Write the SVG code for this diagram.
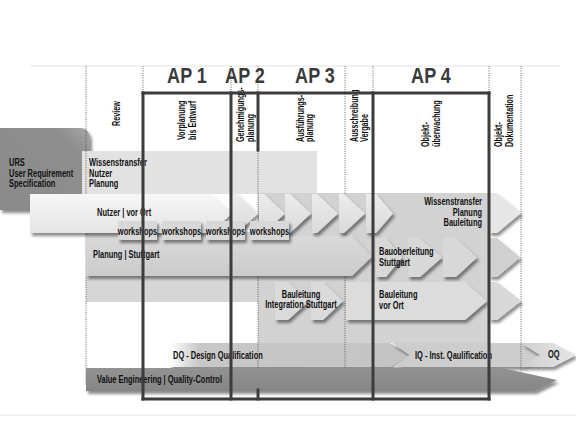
<svg xmlns="http://www.w3.org/2000/svg" width="576" height="432" viewBox="0 0 576 432">
<defs>
<style>
text{font-family:'Liberation Sans',Arial,sans-serif;font-weight:bold;fill:#111;font-size:10.5px}
.ap{font-size:22px;fill:#3a3a3a;text-anchor:middle}
.hd{font-size:10px}
.mid{text-anchor:middle}
.end{text-anchor:end}
.dot{stroke:#555;stroke-width:0.9;stroke-dasharray:1 1.3;fill:none}
.thick{stroke:#3c3c3c;stroke-width:3;fill:none;stroke-linecap:square}
.faint{stroke:#e4e4e4;stroke-width:1;fill:none}
.sh{filter:url(#sh)}
</style>
<filter id="sh" x="-10%" y="-30%" width="130%" height="170%"><feDropShadow dx="2" dy="3" stdDeviation="1.6" flood-color="#000" flood-opacity="0.45"/></filter>
<linearGradient id="gLight" x1="0" y1="0" x2="0" y2="1"><stop offset="0" stop-color="#f7f7f7"/><stop offset="1" stop-color="#e4e4e4"/></linearGradient>
<linearGradient id="gChev" x1="0" y1="0" x2="0" y2="1"><stop offset="0" stop-color="#ececec"/><stop offset="1" stop-color="#dadada"/></linearGradient>
<linearGradient id="gMid" x1="0" y1="0" x2="0" y2="1"><stop offset="0" stop-color="#d9d9d9"/><stop offset="1" stop-color="#cbcbcb"/></linearGradient>
<linearGradient id="gURS" x1="0" y1="1" x2="1" y2="0"><stop offset="0" stop-color="#8a8a8a"/><stop offset="0.8" stop-color="#8f8f8f"/><stop offset="1" stop-color="#a8a8a8"/></linearGradient>
<linearGradient id="gDQ" x1="0" y1="0" x2="1" y2="0"><stop offset="0" stop-color="#ffffff"/><stop offset="0.12" stop-color="#c8c8c8"/><stop offset="1" stop-color="#c4c4c4"/></linearGradient>
<linearGradient id="gOQ" x1="0" y1="0" x2="1" y2="0"><stop offset="0" stop-color="#cfcfcf"/><stop offset="1" stop-color="#e6e6e6"/></linearGradient>
<linearGradient id="gVE" x1="0" y1="0" x2="0" y2="1"><stop offset="0" stop-color="#939393"/><stop offset="1" stop-color="#858585"/></linearGradient>
</defs>
<rect width="576" height="432" fill="#fff"/>

<g id="frame-faint">
<line class="faint" x1="30" y1="66" x2="560" y2="66"/>
<line class="faint" x1="0" y1="415" x2="576" y2="415"/>
</g>

<g id="headers">
<text class="ap" transform="translate(187 83) scale(.82 1)">AP 1</text>
<text class="ap" transform="translate(245 83) scale(.82 1)">AP 2</text>
<text class="ap" transform="translate(315 83) scale(.82 1)">AP 3</text>
<text class="ap" transform="translate(431 83) scale(.82 1)">AP 4</text>
<text class="hd" transform="translate(120 126) rotate(-90) scale(.72 1)">Review</text>
<text class="hd" transform="translate(185 140) rotate(-90) scale(.72 1)">Vorplanung</text>
<text class="hd" transform="translate(196 140) rotate(-90) scale(.72 1)">bis Entwurf</text>
<text class="hd" transform="translate(244 142) rotate(-90) scale(.72 1)">Genehmigungs-</text>
<text class="hd" transform="translate(254 142) rotate(-90) scale(.72 1)">planung</text>
<text class="hd" transform="translate(304 142) rotate(-90) scale(.72 1)">Ausführungs-</text>
<text class="hd" transform="translate(313 142) rotate(-90) scale(.72 1)">planung</text>
<text class="hd" transform="translate(358 142) rotate(-90) scale(.72 1)">Ausschreibung</text>
<text class="hd" transform="translate(368 142) rotate(-90) scale(.72 1)">Vergabe</text>
<text class="hd" transform="translate(429 147) rotate(-90) scale(.72 1)">Objekt-</text>
<text class="hd" transform="translate(440 147) rotate(-90) scale(.72 1)">überwachung</text>
<text class="hd" transform="translate(502 147) rotate(-90) scale(.72 1)">Objekt-</text>
<text class="hd" transform="translate(513 147) rotate(-90) scale(.72 1)">Dokumentation</text>
</g>

<g id="urs">
<path class="sh" d="M0,128 H80 Q90,128 90,140 V210 H0 Z" fill="url(#gURS)"/>
<text transform="translate(9 166) scale(.71 1)">URS</text>
<text transform="translate(9 176.5) scale(.71 1)">User Requirement</text>
<text transform="translate(9 187) scale(.71 1)">Specification</text>
</g>

<g id="panel-wissenstransfer-nutzer">
<rect x="82" y="151" width="235" height="43" fill="#e2e2e2"/>
<text transform="translate(89 166) scale(.71 1)">Wissenstransfer</text>
<text transform="translate(89 176.5) scale(.71 1)">Nutzer</text>
<text transform="translate(89 187) scale(.71 1)">Planung</text>
</g>

<g id="panel-left-lower">
<rect x="86" y="232" width="172" height="70" fill="#d6d6d6"/>
</g>

<g id="panel-wissenstransfer-bauleitung">
<rect x="258" y="193" width="231" height="150" fill="#d2d2d2"/>
<text class="end" transform="translate(482 205) scale(.71 1)">Wissenstransfer</text>
<text class="end" transform="translate(482 215.5) scale(.71 1)">Planung</text>
<text class="end" transform="translate(482 226) scale(.71 1)">Bauleitung</text>
</g>

<g id="dq-band">
<polygon class="sh" points="170,343 390,343 410,355 390,367 170,367" fill="url(#gDQ)"/>
<polygon class="sh" points="392,343 523,343 542,355 523,367 392,367 410,355" fill="#cdcdcd"/>
<polygon class="sh" points="521,343 553,343 576,355 553,367 521,367 540,355" fill="url(#gOQ)"/>
<text transform="translate(173 359) scale(.71 1)">DQ - Design Qualification</text>
<text transform="translate(415 359) scale(.71 1)">IQ - Inst. Qaulification</text>
<text transform="translate(548 358) scale(.71 1)">OQ</text>
</g>

<g id="grid-dotted">
<line class="dot" x1="86" y1="66" x2="86" y2="385"/>
<line class="dot" x1="143" y1="66" x2="143" y2="385"/>
<line class="dot" x1="231" y1="66" x2="231" y2="385"/>
<line class="dot" x1="258" y1="66" x2="258" y2="385"/>
<line class="dot" x1="345" y1="66" x2="345" y2="385"/>
<line class="dot" x1="373" y1="66" x2="373" y2="385"/>
<line class="dot" x1="489" y1="66" x2="489" y2="385"/>
<line class="dot" x1="521" y1="66" x2="521" y2="385"/>
</g>

<g id="planung-stuttgart">
<polygon class="sh" points="86,236 352,236 372,256.5 352,276 86,276" fill="url(#gMid)"/>
<text transform="translate(93 258) scale(.71 1)">Planung | Stuttgart</text>
</g>

<g id="bauoberleitung-stuttgart">
<polygon class="sh" points="376,238 386,238 402,257.5 386,277 376,277" fill="#d8d8d8"/>
<polygon class="sh" points="408,238 420,238 442,257.5 420,277 408,277" fill="#d8d8d8"/>
<polygon class="sh" points="443,238 456,238 477,257.5 456,277 443,277" fill="#d8d8d8"/>
<text transform="translate(379 255) scale(.71 1)">Bauoberleitung</text>
<text transform="translate(379 265.5) scale(.71 1)">Stuttgart</text>
</g>

<g id="bauleitung-integration">
<polygon class="sh" points="275,282 288,282 309,301 288,320 275,320" fill="#dadada"/>
<polygon class="sh" points="311,282 323,282 343,301 323,320 311,320" fill="#dadada"/>
<text class="mid" transform="translate(301 297.5) scale(.71 1)">Bauleitung</text>
<text class="mid" transform="translate(301 307.5) scale(.71 1)">Integration Stuttgart</text>
</g>

<g id="bauleitung-vor-ort">
<polygon class="sh" points="346,282 465,282 487,301 465,320 346,320" fill="#dcdcdc"/>
<text transform="translate(379 298) scale(.71 1)">Bauleitung</text>
<text transform="translate(379 308.5) scale(.71 1)">vor Ort</text>
</g>

<g id="dokumentation-chevrons">
<polygon class="sh" points="489,193 497,193 521,213 497,233 489,233" fill="#e6e6e6"/>
<polygon class="sh" points="489,238 497,238 520,257.5 497,277 489,277" fill="#d0d0d0"/>
<polygon class="sh" points="489,282 497,282 521,301 497,320 489,320" fill="#d8d8d8"/>
</g>

<g id="nutzer-vor-ort">
<polygon class="sh" points="30,194 210,194 232,213.5 210,233 30,233" fill="url(#gLight)"/>
<polygon class="sh" points="232,194 237,194 258,213.5 237,233 232,233" fill="url(#gChev)"/>
<polygon class="sh" points="259,194 264,194 285,213.5 264,233 259,233" fill="url(#gChev)"/>
<polygon class="sh" points="285,194 290,194 311,213.5 290,233 285,233" fill="url(#gChev)"/>
<polygon class="sh" points="312,194 317,194 338,213.5 317,233 312,233" fill="url(#gChev)"/>
<polygon class="sh" points="339,194 344,194 365,213.5 344,233 339,233" fill="url(#gChev)"/>
<polygon class="sh" points="366,194 376,194 393,213.5 376,233 366,233" fill="url(#gChev)"/>
<text transform="translate(97 215.5) scale(.71 1)">Nutzer | vor Ort</text>
</g>

<g id="workshops">
<rect class="sh" x="118" y="221" width="39" height="19" fill="#d8d8d8"/>
<rect class="sh" x="162" y="221" width="39" height="19" fill="#d8d8d8"/>
<rect class="sh" x="206" y="221" width="39" height="19" fill="#d8d8d8"/>
<rect class="sh" x="250" y="221" width="39" height="19" fill="#d8d8d8"/>
<text class="mid" transform="translate(137.5 234.5) scale(.71 1)">workshops</text>
<text class="mid" transform="translate(181.5 234.5) scale(.71 1)">workshops</text>
<text class="mid" transform="translate(225.5 234.5) scale(.71 1)">workshops</text>
<text class="mid" transform="translate(269.5 234.5) scale(.71 1)">workshops</text>
</g>

<g id="value-engineering">
<polygon class="sh" points="86,368 502,368 557,380 535,391 86,391" fill="url(#gVE)"/>
<text transform="translate(97 383) scale(.71 1)">Value Engineering | Quality-Control</text>
</g>

<g id="connectors">
<line class="thick" x1="143" y1="93" x2="489" y2="93"/>
<line class="thick" x1="143" y1="399" x2="489" y2="399"/>
<line class="thick" x1="143" y1="93" x2="143" y2="399"/>
<line class="thick" x1="231" y1="93" x2="231" y2="399"/>
<line class="thick" x1="258" y1="93" x2="258" y2="150"/>
<line class="thick" x1="258" y1="390" x2="258" y2="399"/>
<line class="thick" x1="373" y1="93" x2="373" y2="399"/>
<line class="thick" x1="489" y1="93" x2="489" y2="399"/>
</g>
</svg>
